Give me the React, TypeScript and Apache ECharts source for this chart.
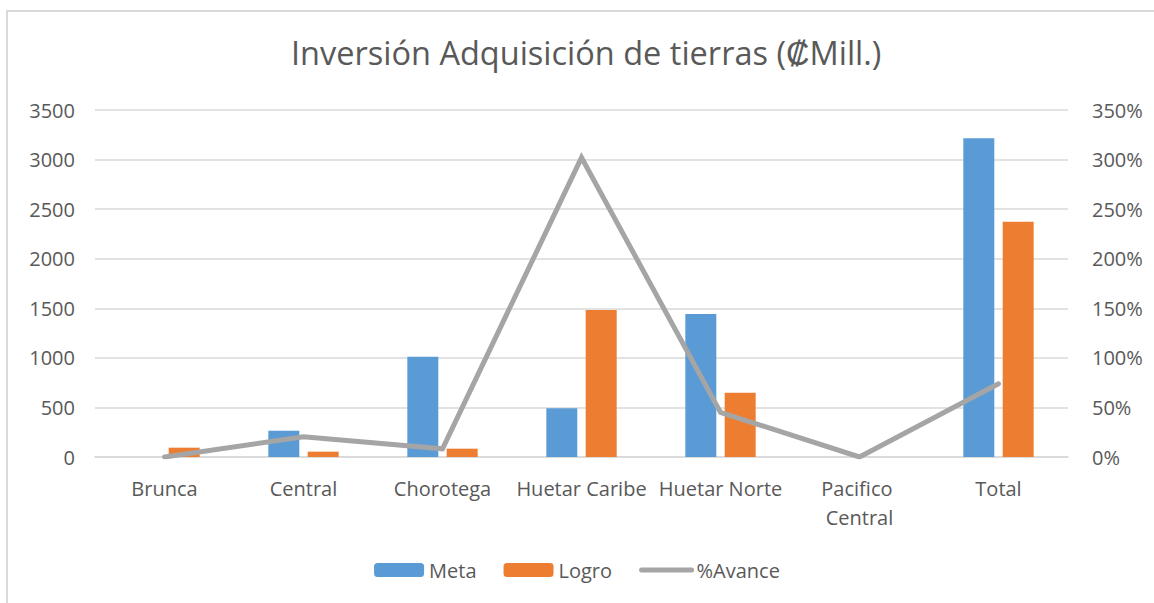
import React, { useEffect, useRef } from "react";
import * as echarts from "echarts";

const categories = ["Brunca", "Central", "Chorotega", "Huetar Caribe", "Huetar Norte", "Pacifico Central", "Total"];
const meta = [0, 265, 1010, 491, 1442, 0, 3215];
const logro = [94, 54, 84, 1483, 649, 0, 2373];
const avance = [0, 0.204, 0.083, 3.02, 0.45, 0, 0.738];
const leftTicks = { min: 0, max: 3500, interval: 500 };
const rightTicks = { min: 0, max: 3.5, interval: 0.5 };

const FONT = "'Open Sans', sans-serif";
const TXT = "#595959";

export default function App() {
  const ref = useRef<HTMLDivElement>(null);
  useEffect(() => {
    if (!ref.current) return;
    const chart = echarts.init(ref.current, null, { renderer: "svg" });
    chart.setOption({
      animation: false,
      backgroundColor: "#ffffff",
      textStyle: { fontFamily: FONT },
      title: {
        text: "Inversión Adquisición de tierras (₡Mill.)",
        left: 286,
        top: 31,
        textStyle: { fontFamily: FONT, fontSize: 32.5, fontWeight: "normal", color: TXT },
      },
      graphic: [
        {
          type: "rect",
          shape: { x: 7, y: 11, width: 1160, height: 600 },
          style: { fill: "none", stroke: "#D9D9D9", lineWidth: 2 },
          silent: true,
        },
      ],
      legend: {
        bottom: 18,
        left: "center",
        itemWidth: 50,
        itemHeight: 14,
        itemGap: 27,
        textStyle: { fontFamily: FONT, fontSize: 20, color: TXT },
        data: [
          "Meta",
          "Logro",
          {
            name: "%Avance",
            itemStyle: { opacity: 0 },
            lineStyle: { width: 5, color: "#A5A5A5", cap: "round" },
          },
        ],
      },
      grid: { left: 95, right: 86, top: 110, bottom: 146, containLabel: false },
      xAxis: {
        type: "category",
        data: categories,
        axisLine: { show: true, lineStyle: { color: "#D9D9D9", width: 1.5 } },
        axisTick: { show: false },
        axisLabel: {
          fontFamily: FONT,
          fontSize: 20,
          color: TXT,
          margin: 17,
          interval: 0,
          width: 134,
          overflow: "break",
          lineHeight: 29,
        },
      },
      yAxis: [
        {
          type: "value",
          ...leftTicks,
          axisLine: { show: false },
          axisTick: { show: false },
          splitLine: { lineStyle: { color: "#D9D9D9", width: 1.5 } },
          axisLabel: {
            fontFamily: FONT,
            fontSize: 20,
            color: TXT,
            margin: 20,
            formatter: (v: number) => String(v),
          },
        },
        {
          type: "value",
          ...rightTicks,
          axisLine: { show: false },
          axisTick: { show: false },
          splitLine: { show: false },
          axisLabel: {
            fontFamily: FONT,
            fontSize: 20,
            color: TXT,
            margin: 24,
            formatter: (v: number) => Math.round(v * 100) + "%",
          },
        },
      ],
      series: [
        {
          name: "Meta",
          type: "bar",
          data: meta,
          barWidth: "22.3%",
          barGap: "27%",
          itemStyle: { color: "#5B9BD5" },
        },
        {
          name: "Logro",
          type: "bar",
          data: logro,
          barWidth: "22.3%",
          itemStyle: { color: "#ED7D31" },
        },
        {
          name: "%Avance",
          type: "line",
          yAxisIndex: 1,
          data: avance,
          symbol: "none",
          lineStyle: { color: "#A5A5A5", width: 5, cap: "round", join: "miter" },
          itemStyle: { color: "#A5A5A5" },
        },
      ],
    });
    return () => chart.dispose();
  }, []);
  return (
    <div
      ref={ref}
      style={{ position: "fixed", left: 0, top: 0, width: 1154, height: 603 }}
    />
  );
}
